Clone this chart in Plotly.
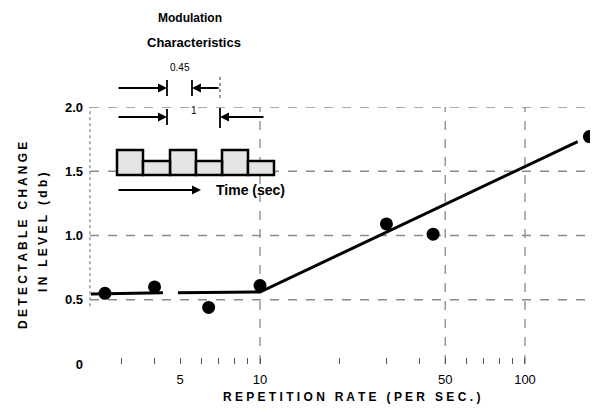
import plotly.graph_objects as go

# ---- data ----
rate = [2.6, 4.0, 6.4, 10, 30, 45, 175]
change = [0.55, 0.60, 0.44, 0.61, 1.09, 1.01, 1.77]

fit_rate = [2.3, 4.3, None, 4.9, 10, 158]
fit_change = [0.545, 0.555, None, 0.555, 0.56, 1.73]

y_tick_vals = [0, 0.5, 1.0, 1.5, 2.0]
y_tick_text = ["0", "0.5", "1.0", "1.5", "2.0"]
x_tick_vals = [3, 4, 5, 6, 7, 8, 9, 10, 20, 30, 40, 50, 60, 70, 80, 90, 100]
x_tick_text = ["", "", "5", "", "", "", "", "10", "", "", "", "50", "", "", "", "", "100"]
h_grid = [0.5, 1.0, 1.5, 2.0]
v_grid = [10, 50, 100]

# page body has an 8px margin: build the figure in screen pixels, shifted
OFF = 8
SW, SH = 598, 412            # screen size
W, H = SW - OFF, SH - OFF    # figure size
PL, PR, PT, PB = 90, 598, 107, 364   # plot area in screen pixels
L, T = PL - OFF, PT - OFF
R, B = SW - PR, SH - PB
PW, PH = PR - PL, PB - PT


def px(x):
    return (x - PL) / PW


def py(y):
    return (PB - y) / PH


FONT = "Liberation Sans"
fig = go.Figure()

fig.add_trace(go.Scatter(x=fit_rate, y=fit_change, mode="lines",
                         line=dict(color="black", width=3), connectgaps=False,
                         hoverinfo="skip", showlegend=False))
fig.add_trace(go.Scatter(x=rate, y=change, mode="markers", cliponaxis=False,
                         marker=dict(color="black", size=13), showlegend=False))

shapes = []
for g in h_grid:
    shapes.append(dict(type="line", xref="paper", yref="y", x0=0, x1=1, y0=g, y1=g,
                       line=dict(color="#8a8a8a", width=1.3, dash="dash"), layer="below"))
for g in v_grid:
    shapes.append(dict(type="line", xref="x", yref="paper", x0=g, x1=g, y0=0, y1=1,
                       line=dict(color="#8a8a8a", width=1.3, dash="dash"), layer="below"))
# left axis (dotted)
shapes.append(dict(type="line", xref="paper", yref="y", x0=0, x1=0, y0=0.45, y1=2.0,
                   line=dict(color="#8a8a8a", width=1.3, dash="dot"), layer="below"))

# ---- inset: modulation characteristics ----
def seg(x0, y0, x1, y1, dash="solid", w=1.8, color="black"):
    shapes.append(dict(type="line", xref="paper", yref="paper",
                       x0=px(x0), y0=py(y0), x1=px(x1), y1=py(y1),
                       line=dict(color=color, width=w, dash=dash)))


seg(167, 80, 167, 96)
seg(192, 80, 192, 96)
seg(220, 77, 220, 99, dash="dot", w=1.2, color="#555")
seg(167, 109, 167, 125)
seg(220, 108, 220, 128)

tall = [(117, 143), (170, 196), (222, 248)]
low = [(143, 170), (196, 222), (248, 274)]
for a, b in tall:
    shapes.append(dict(type="rect", xref="paper", yref="paper",
                       x0=px(a), x1=px(b), y0=py(175), y1=py(150),
                       fillcolor="#e4e4e4", line=dict(color="black", width=2.5)))
for a, b in low:
    shapes.append(dict(type="rect", xref="paper", yref="paper",
                       x0=px(a), x1=px(b), y0=py(175), y1=py(161),
                       fillcolor="#e4e4e4", line=dict(color="black", width=2.5)))

annotations = []


def arrow(hx, hy, dx):
    annotations.append(dict(xref="paper", yref="paper", x=px(hx), y=py(hy),
                            ax=dx, ay=0, showarrow=True, arrowhead=2, arrowsize=1,
                            arrowwidth=1.8, arrowcolor="black", text=""))


arrow(167, 88, -50)
arrow(192, 88, 28)
arrow(167, 117, -50)
arrow(220, 117, 45)
arrow(201, 190, -84)


def text(x, y, s, size=12, weight="bold", xanchor="center", angle=0):
    annotations.append(dict(xref="paper", yref="paper", x=px(x), y=py(y), text=s,
                            showarrow=False, xanchor=xanchor, yanchor="middle",
                            textangle=angle,
                            font=dict(family=FONT, size=size, color="black", weight=weight)))


text(190, 18, "Modulation", 12)
text(194, 42, "Characteristics", 13)
text(180, 67, "0.45", 10, weight="normal")
text(194, 111, "1", 10, weight="normal")
text(214, 190, "Time (sec)", 14, xanchor="left")

# axis titles
text(351, 397, "R E P E T I T I O N   R A T E   ( P E R   S E C . )", 12)
text(23, 236, "D E T E C T A B L E   C H A N G E", 12, angle=-90)
text(43, 232, "I N   L E V E L   ( d b )", 12, angle=-90)

fig.update_layout(
    width=W, height=H,
    margin=dict(l=L, r=R, t=T, b=B, autoexpand=False),
    paper_bgcolor="white", plot_bgcolor="white",
    shapes=shapes, annotations=annotations,
    xaxis=dict(type="log", range=[0.3585, 2.2755], showgrid=False, zeroline=False,
               showline=False, tickvals=x_tick_vals, ticktext=x_tick_text,
               ticks="inside", ticklen=6, tickcolor="#555", tickwidth=1.2,
               ticklabelstandoff=6, automargin=False,
               tickfont=dict(family=FONT, size=13, color="black")),
    yaxis=dict(range=[0, 2.0], showgrid=False, zeroline=False, showline=False,
               tickvals=y_tick_vals, ticktext=y_tick_text, ticks="",
               ticklabelstandoff=6, automargin=False,
               tickfont=dict(family=FONT, size=13, color="black", weight="bold")),
)

fig.write_html("out.html")
